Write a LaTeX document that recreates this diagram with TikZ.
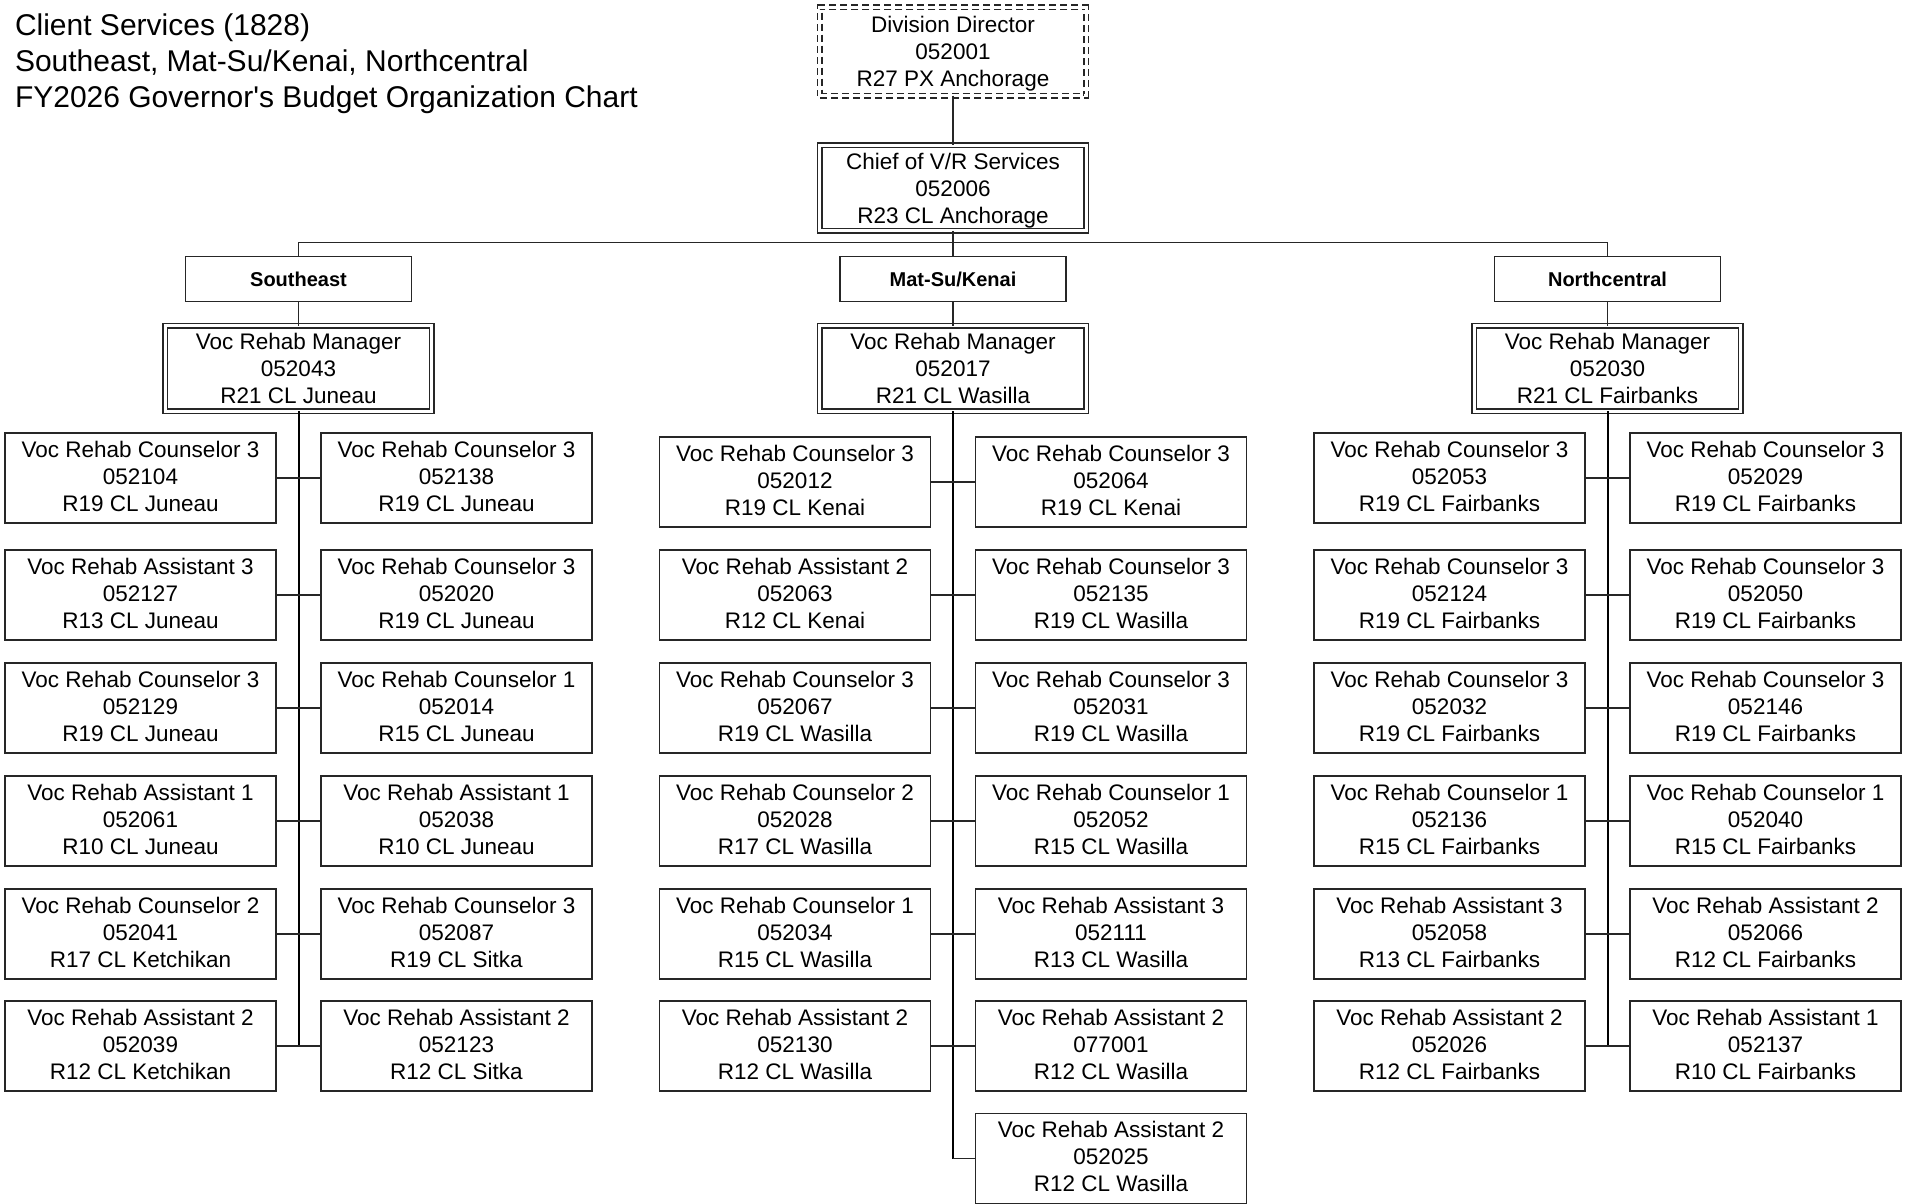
\documentclass[tikz,border=0pt]{standalone}
\usepackage{fontspec}
\setmainfont{Liberation Sans}[Ligatures=TeXOff]
\newcommand{\staffbox}[4]{\node[staff] (#1) at (#2,#3) {#4\rule[-4pt]{0pt}{4pt}};}
\newcommand{\nodepth}[1]{\raisebox{0pt}[\height][0pt]{#1}}
\begin{document}
\begin{tikzpicture}[x=1pt,y=-1pt,
  every node/.style={inner sep=0pt, outer sep=0pt},
  conn/.style={draw=black!85, line width=1.2pt},
  trunk/.style={draw=black, line width=2pt},
  staff/.style={draw=black!85, line width=1.2pt, minimum width=271pt, minimum height=90pt, align=center, font=\fontsize{22.5}{27}\selectfont},
  mgr/.style={staff, double=white, double distance=3.3pt, minimum width=266.5pt, minimum height=85.5pt},
  dir/.style={mgr, dash pattern=on 7pt off 4pt, minimum height=88.5pt},
  region/.style={draw=black!85, line width=1.2pt, minimum width=226pt, minimum height=45pt, font=\fontsize{20}{23}\selectfont\bfseries},
  title/.style={anchor=base west, font=\fontsize{30}{36}\selectfont}
]
\useasboundingbox (0,0) rectangle (1908,1204);
\fill[white] (0,0) rectangle (1908,1204);

% title
\node[title] (t1) at (15,36) {Client Services (1828)};
\node[title] (t2) at (15,71.7) {Southeast, Mat-Su/Kenai, Northcentral};
\node[title] (t3) at (15,107.3) {FY2026 Governor's Budget Organization Chart};

% top
\node[dir] (dirn) at (953,51.5) {Division Director\\052001\\\nodepth{R27 PX Anchorage}};
\node[mgr] (chief) at (953,188) {Chief of V/R Services\\052006\\\nodepth{R23 CL Anchorage}};

% regions
\node[region] (seh) at (298.5,279.2) {Southeast};
\node[region] (msh) at (953,279.2) {Mat-Su/Kenai};
\node[region] (nch) at (1607.5,279.2) {Northcentral};

\node[mgr] (sem) at (298.5,368.5) {Voc Rehab Manager\\052043\\R21 CL Juneau};
\node[mgr] (msm) at (953,368.5) {Voc Rehab Manager\\052017\\R21 CL Wasilla};
\node[mgr] (ncm) at (1607.5,368.5) {Voc Rehab Manager\\052030\\R21 CL Fairbanks};

\coordinate (bus) at (953,242.7);
\draw[conn] (dirn.south) -- (chief.north);
\draw[conn] (chief.south) -- (msh.north);
\draw[conn] (seh.north) |- (bus) -| (nch.north);
\draw[conn] (seh.south) -- (sem.north);
\draw[conn] (msh.south) -- (msm.north);
\draw[conn] (nch.south) -- (ncm.north);

% Southeast staff
\staffbox{seL1}{140.5}{478}{Voc Rehab Counselor 3\\052104\\R19 CL Juneau}
\staffbox{seL2}{140.5}{595}{Voc Rehab Assistant 3\\052127\\R13 CL Juneau}
\staffbox{seL3}{140.5}{708}{Voc Rehab Counselor 3\\052129\\R19 CL Juneau}
\staffbox{seL4}{140.5}{821}{Voc Rehab Assistant 1\\052061\\R10 CL Juneau}
\staffbox{seL5}{140.5}{934}{Voc Rehab Counselor 2\\052041\\R17 CL Ketchikan}
\staffbox{seL6}{140.5}{1046}{Voc Rehab Assistant 2\\052039\\R12 CL Ketchikan}
\staffbox{seR1}{456.5}{478}{Voc Rehab Counselor 3\\052138\\R19 CL Juneau}
\staffbox{seR2}{456.5}{595}{Voc Rehab Counselor 3\\052020\\R19 CL Juneau}
\staffbox{seR3}{456.5}{708}{Voc Rehab Counselor 1\\052014\\R15 CL Juneau}
\staffbox{seR4}{456.5}{821}{Voc Rehab Assistant 1\\052038\\R10 CL Juneau}
\staffbox{seR5}{456.5}{934}{Voc Rehab Counselor 3\\052087\\R19 CL Sitka}
\staffbox{seR6}{456.5}{1046}{Voc Rehab Assistant 2\\052123\\R12 CL Sitka}

% Mat-Su staff
\staffbox{msL1}{795}{482}{Voc Rehab Counselor 3\\052012\\R19 CL Kenai}
\staffbox{msL2}{795}{595}{Voc Rehab Assistant 2\\052063\\R12 CL Kenai}
\staffbox{msL3}{795}{708}{Voc Rehab Counselor 3\\052067\\R19 CL Wasilla}
\staffbox{msL4}{795}{821}{Voc Rehab Counselor 2\\052028\\R17 CL Wasilla}
\staffbox{msL5}{795}{934}{Voc Rehab Counselor 1\\052034\\R15 CL Wasilla}
\staffbox{msL6}{795}{1046}{Voc Rehab Assistant 2\\052130\\R12 CL Wasilla}
\staffbox{msR1}{1111}{482}{Voc Rehab Counselor 3\\052064\\R19 CL Kenai}
\staffbox{msR2}{1111}{595}{Voc Rehab Counselor 3\\052135\\R19 CL Wasilla}
\staffbox{msR3}{1111}{708}{Voc Rehab Counselor 3\\052031\\R19 CL Wasilla}
\staffbox{msR4}{1111}{821}{Voc Rehab Counselor 1\\052052\\R15 CL Wasilla}
\staffbox{msR5}{1111}{934}{Voc Rehab Assistant 3\\052111\\R13 CL Wasilla}
\staffbox{msR6}{1111}{1046}{Voc Rehab Assistant 2\\077001\\R12 CL Wasilla}
\staffbox{msR7}{1111}{1158.5}{Voc Rehab Assistant 2\\052025\\R12 CL Wasilla}

% Northcentral staff
\staffbox{ncL1}{1449.5}{478}{Voc Rehab Counselor 3\\052053\\R19 CL Fairbanks}
\staffbox{ncL2}{1449.5}{595}{Voc Rehab Counselor 3\\052124\\R19 CL Fairbanks}
\staffbox{ncL3}{1449.5}{708}{Voc Rehab Counselor 3\\052032\\R19 CL Fairbanks}
\staffbox{ncL4}{1449.5}{821}{Voc Rehab Counselor 1\\052136\\R15 CL Fairbanks}
\staffbox{ncL5}{1449.5}{934}{Voc Rehab Assistant 3\\052058\\R13 CL Fairbanks}
\staffbox{ncL6}{1449.5}{1046}{Voc Rehab Assistant 2\\052026\\R12 CL Fairbanks}
\staffbox{ncR1}{1765.5}{478}{Voc Rehab Counselor 3\\052029\\R19 CL Fairbanks}
\staffbox{ncR2}{1765.5}{595}{Voc Rehab Counselor 3\\052050\\R19 CL Fairbanks}
\staffbox{ncR3}{1765.5}{708}{Voc Rehab Counselor 3\\052146\\R19 CL Fairbanks}
\staffbox{ncR4}{1765.5}{821}{Voc Rehab Counselor 1\\052040\\R15 CL Fairbanks}
\staffbox{ncR5}{1765.5}{934}{Voc Rehab Assistant 2\\052066\\R12 CL Fairbanks}
\staffbox{ncR6}{1765.5}{1046}{Voc Rehab Assistant 1\\052137\\R10 CL Fairbanks}

% trunks
\draw[trunk] (sem.south) -- (sem.south |- seL6.east);
\draw[trunk] (msm.south) -- (msm.south |- msR7.west);
\draw[trunk] (ncm.south) -- (ncm.south |- ncL6.east);
\draw[conn] (msm.south |- msR7.west) -- (msR7.west);

% row connectors
\foreach \p in {se,ms,nc}{
  \foreach \i in {1,...,6}{
    \draw[conn] (\p L\i.east) -- (\p R\i.west);
  }
}
\end{tikzpicture}
\end{document}
